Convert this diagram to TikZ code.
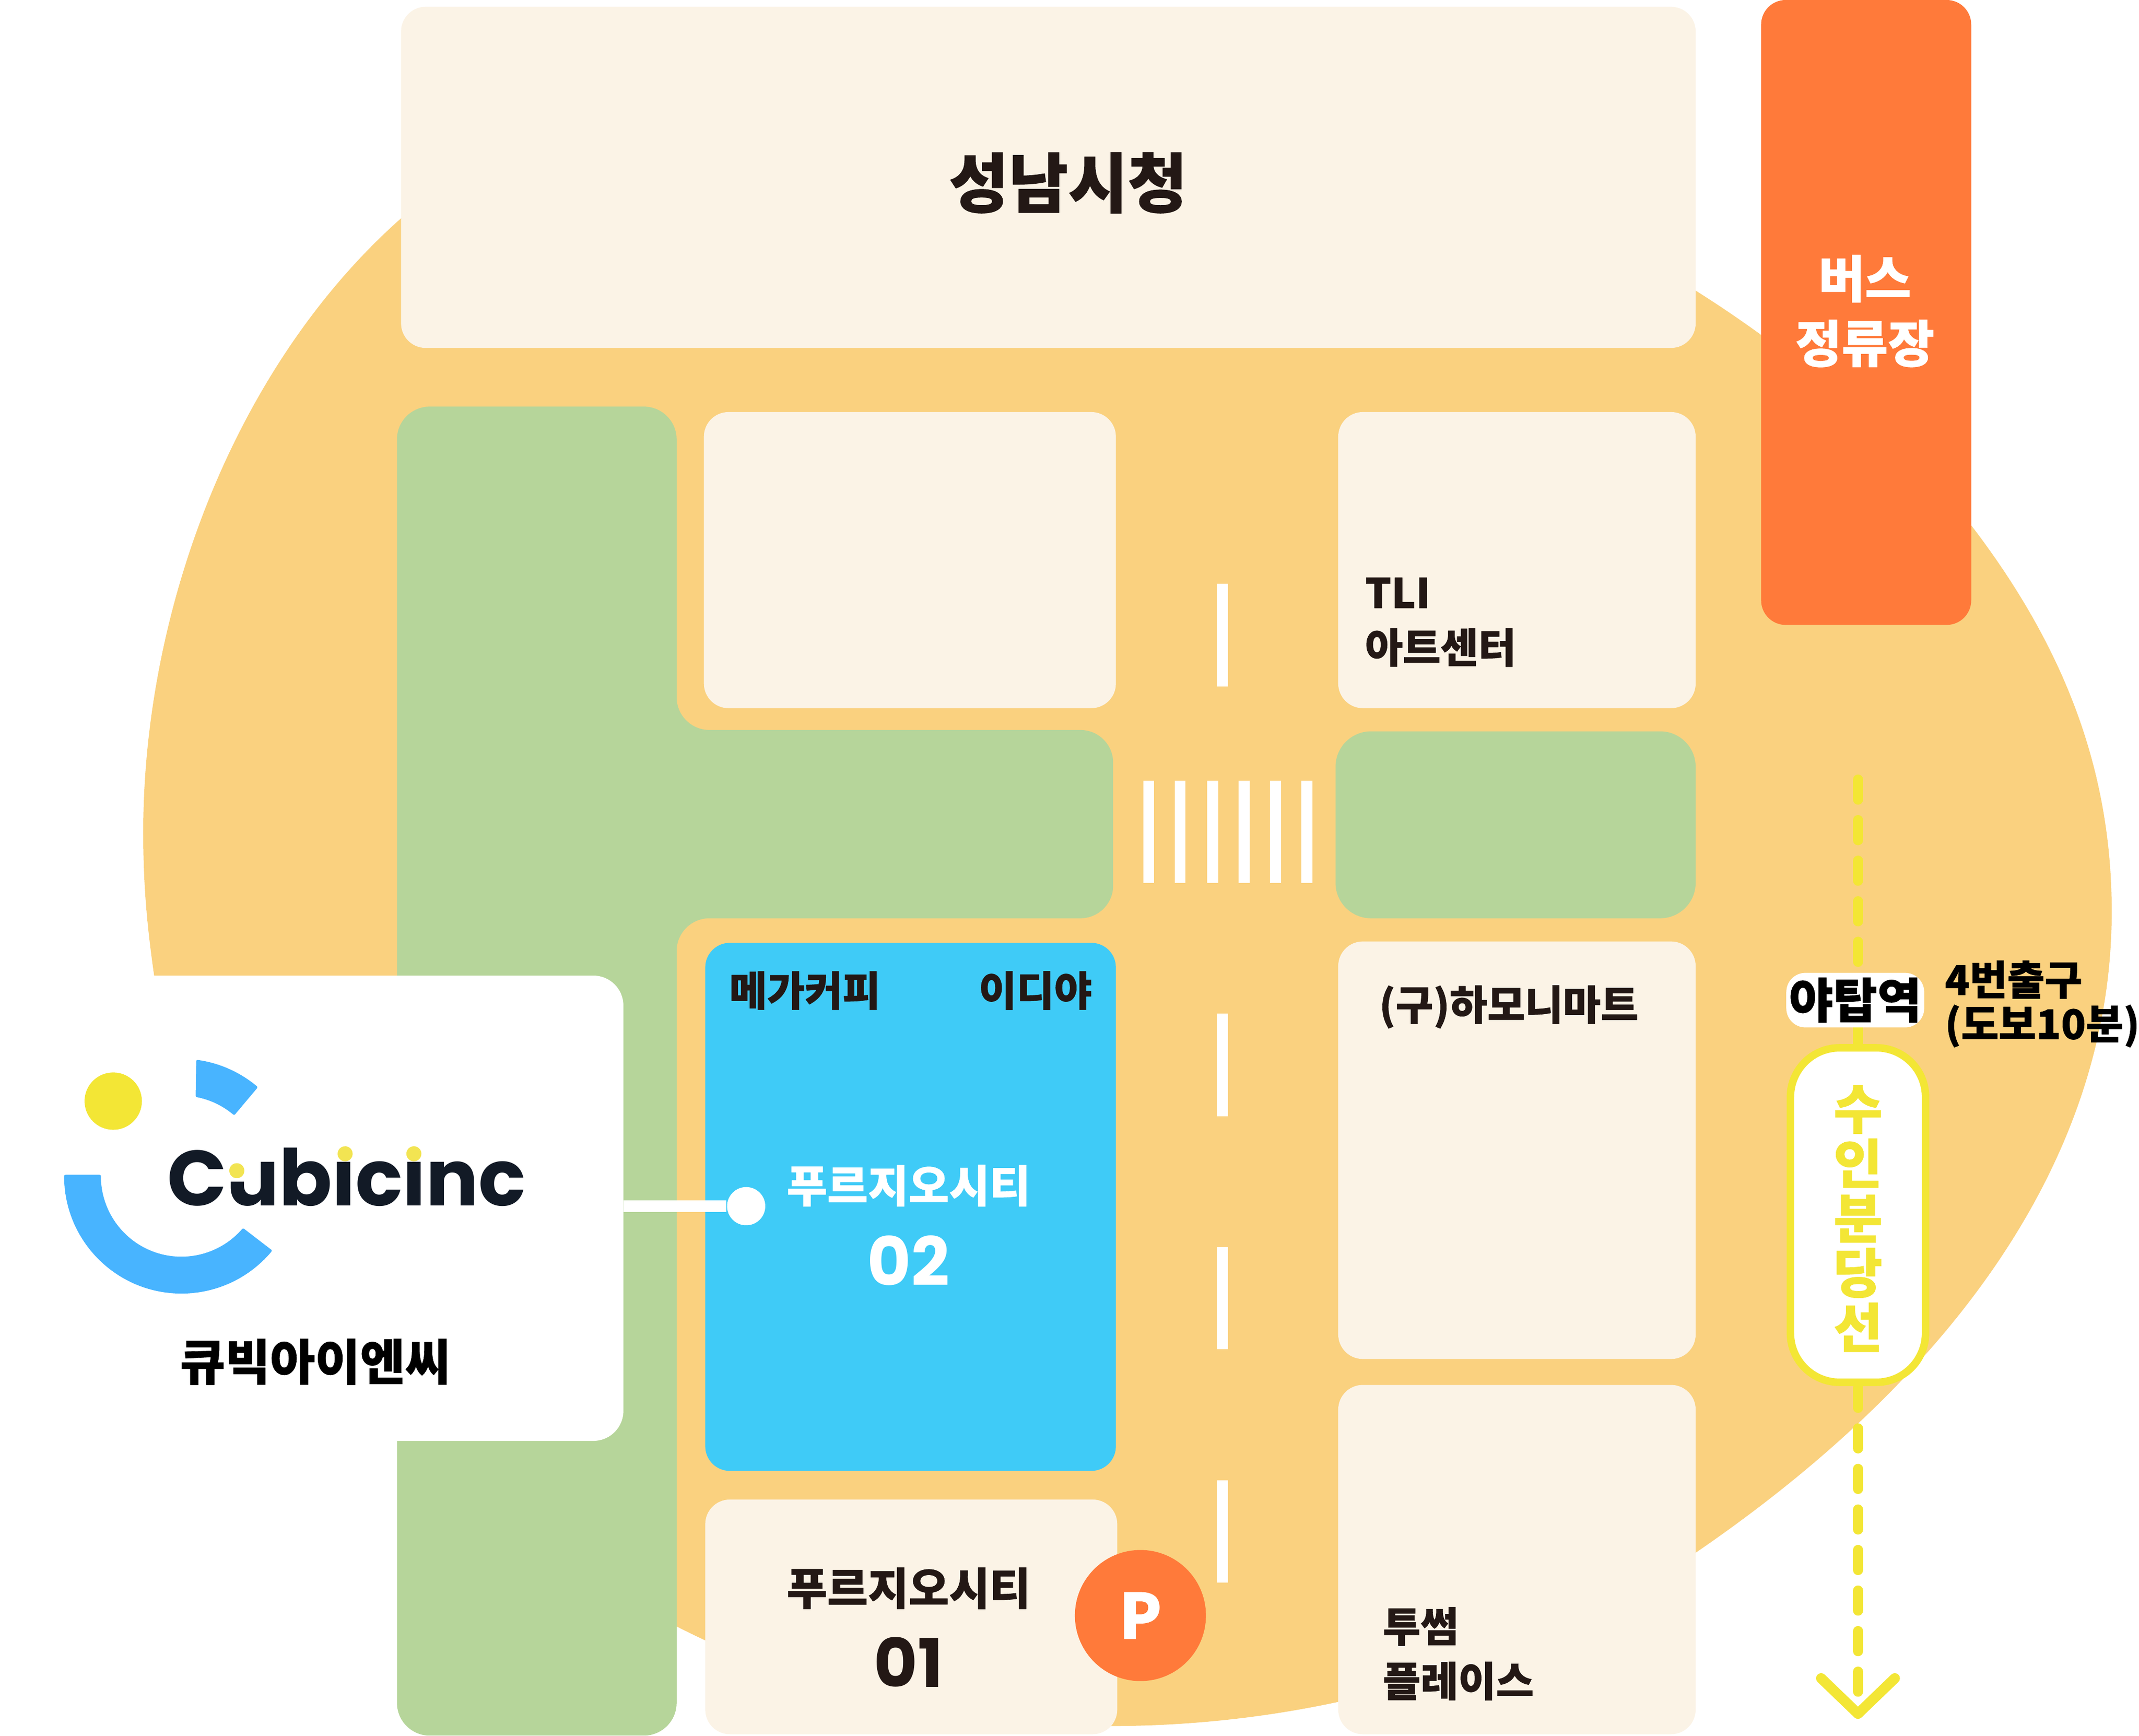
\documentclass[tikz,border=0pt]{standalone}
\usepackage{fontspec}
\setmainfont{Noto Sans CJK KR}[BoldFeatures={FakeBold=0.7}]
\newfontfamily\logofont{Poppins}
\definecolor{blobcol}{HTML}{FAD17F}
\definecolor{creamcol}{HTML}{FBF3E6}
\definecolor{greencol}{HTML}{B6D59A}
\definecolor{skycol}{HTML}{3FCBF7}
\definecolor{busorange}{HTML}{FF7A3A}
\definecolor{railyellow}{HTML}{F3E635}
\definecolor{logoblue}{HTML}{48B4FF}
\definecolor{logoink}{HTML}{121A26}
\definecolor{logodot}{HTML}{F2E452}
\definecolor{inkcol}{HTML}{231815}
\tikzset{
  block/.style={fill=creamcol, rounded corners=0.18cm},
  park/.style={fill=greencol, rounded corners=0.24cm},
  lanemark/.style={draw=white, line width=0.08cm},
  rail/.style={draw=railyellow, line width=0.075cm},
  maptext/.style={font=\bfseries\fontsize{8.55}{11.4}\selectfont, text=inkcol, inner sep=0pt},
  citytext/.style={font=\bfseries\fontsize{9.2}{11}\selectfont, inner sep=0pt},
  numtext/.style={font=\logofont\bfseries\fontsize{14}{16}\selectfont, inner sep=0pt},
  exittext/.style={inner sep=0pt, text=black, font=\bfseries\fontsize{8.5}{10}\selectfont, anchor=west},
}
\begin{document}
\begin{tikzpicture}[x=0.01cm, y=-0.01cm]
\useasboundingbox (0,0) rectangle (1568,1272.3);

% Background blob
\fill[blobcol] (294,160) .. controls (170,270) and (105,450) .. (105,610)
  .. controls (105,650) and (108,680) .. (113,715)
  .. controls (150,960) and (320,1110) .. (496,1192)
  .. controls (590,1240) and (700,1265) .. (814,1265)
  .. controls (960,1265) and (1110,1225) .. (1243,1138)
  .. controls (1430,1010) and (1548,850) .. (1548,668)
  .. controls (1548,560) and (1510,470) .. (1445,385)
  .. controls (1390,320) and (1310,255) .. (1243,213)
  .. controls (1000,60) and (500,-20) .. cycle;

% Green areas
\fill[park] (291,1272) -- (291,298) -- (496,298) -- (496,535) -- (816,535) -- (816,673)
  -- (496,673) -- (496,1272) -- cycle;
\fill[park, rounded corners=0.26cm] (979,536) rectangle (1243,673);

% Buildings
\fill[block] (294,5) rectangle (1243,255);
\fill[block] (516,302) rectangle (818,519);
\fill[block] (981,302) rectangle (1243,519);
\fill[block] (981,690) rectangle (1243,996);
\fill[block] (981,1015) rectangle (1243,1271);
\fill[block] (517,1099) rectangle (819,1271);
\fill[block, fill=skycol] (517,691) rectangle (818,1078);
\fill[block, fill=busorange] (1291,0) rectangle (1445,458);

% Building labels
\node[maptext, font=\bfseries\fontsize{13.5}{16}\selectfont] (cityhall) at (783,134) {성남시청};
\node[citytext, text=white, font=\bfseries\fontsize{10.5}{13.5}\selectfont, align=center] (busstop) at (1367,228) {버스\\정류장};
\node[maptext, align=left, anchor=west] (tli) at (1000,456) {TLI\\아트센터};
\node[maptext] (mega) at (590,726) {메가커피};
\node[maptext] (ediya) at (759,726) {이디야};
\node[citytext, text=white] (prugio2) at (666,869) {푸르지오시티};
\node[numtext, text=white] (num2) at (666,924) {02};
\node[citytext, text=inkcol] (prugio1) at (666,1164) {푸르지오시티};
\node[numtext, text=inkcol] (num1) at (666,1218) {01};
\node[maptext] (harmony) at (1106,738) {(구)하모니마트};
\node[maptext, align=left, anchor=west] (twosome) at (1013,1212) {투썸\\플레이스};

% Road marks
\draw[lanemark] (896,428) -- (896,503);
\draw[lanemark] (896,743) -- (896,818);
\draw[lanemark] (896,914) -- (896,989);
\draw[lanemark] (896,1085) -- (896,1160);

% Crosswalk
\draw[lanemark] (842,572) -- (842,647);
\draw[lanemark] (865,572) -- (865,647);
\draw[lanemark] (889,572) -- (889,647);
\draw[lanemark] (912,572) -- (912,647);
\draw[lanemark] (935,572) -- (935,647);
\draw[lanemark] (958,572) -- (958,647);

% Parking
\node[circle, fill=busorange, minimum size=0.96cm, inner sep=0pt, text=white, font=\bfseries\fontsize{13}{13}\selectfont] (parking) at (836,1184) {P};

% Subway line
\coordinate (railtop) at (1362,571.4);
\coordinate (railstop) at (1362,1240);
\coordinate (railend) at (1362,1256);
\draw[rail, dash pattern=on 0.146cm off 0.151cm, line cap=round] (railtop) -- (railstop);
\draw[rail, line cap=round, line join=round] (1335,1230) -- (railend) -- (1389,1230);
\node[draw=railyellow, fill=white, line width=0.055cm, rounded corners=0.36cm, minimum width=0.99cm, minimum height=2.45cm] (bundang) at (1362,890.5) {};
\node[inner sep=0pt, text=railyellow, font=\bfseries\fontsize{11.1}{11.4}\selectfont, align=center] (bundanglabel) at (1362,893) {수\\인\\분\\당\\선};
\node[fill=white, rounded corners=0.14cm, inner xsep=0.02cm, inner ysep=0.035cm, text=black, font=\bfseries\fontsize{10}{12}\selectfont] (yatap) at (1360,733) {야탑역};
\node[exittext] (exit) at (1425,718) {4번출구};
\node[exittext] (walk) at (1425,752) {(도보10분)};

% Company card
\fill[white, rounded corners=0.22cm] (-40,715) rectangle (457,1056);
\coordinate (cardedge) at (457,884);
\node[circle, fill=white, minimum size=0.28cm, inner sep=0pt] (pin) at (547,884) {};
\draw[lanemark, line width=0.088cm] (cardedge) -- (pin);

% Logo
\begin{scope}[shift={(133,862)}, y=0.01cm]
\filldraw[logoblue, line width=0.02cm, line join=round] (180:85) arc[start angle=180, end angle=320, radius=0.85cm]
  -- (319:60) arc[start angle=319, end angle=180, radius=0.60cm] -- cycle;
\filldraw[logoblue, line width=0.02cm, line join=round] (82:85) arc[start angle=82, end angle=50, radius=0.85cm]
  -- (50:60) arc[start angle=50, end angle=79, radius=0.60cm] -- cycle;
\end{scope}
\fill[railyellow] (83,807) circle[radius=0.21cm];
\node[inner sep=0pt, text=logoink, font=\logofont\bfseries\fontsize{16.3}{18}\selectfont] (cubicinc) at (254,861) {Cubicinc};
% Yellow dots on the wordmark
\fill[white] (167,842) rectangle (181,866);
\fill[white] (245,835) rectangle (261,851);
\fill[white] (295,835) rectangle (311,851);
\fill[logodot] (173.6,858) circle[radius=0.055cm];
\fill[logodot] (253,845.6) circle[radius=0.055cm];
\fill[logodot] (303.4,845.6) circle[radius=0.055cm];
\node[inner sep=0pt, text=black, font=\bfseries\fontsize{10.2}{12}\selectfont] (cubickr) at (231,998) {큐빅아이엔씨};

\end{tikzpicture}
\end{document}
